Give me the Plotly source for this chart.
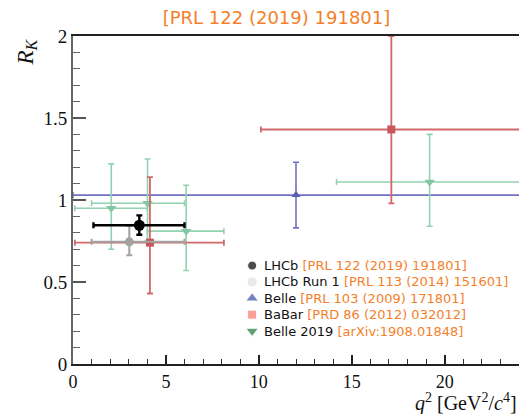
import plotly.graph_objects as go

# ---- measurements of R_K versus q^2 ----
lhcb_q2 = [3.57]
lhcb_q2_lo = [1.1]
lhcb_q2_hi = [6.0]
lhcb_rk = [0.846]
lhcb_up = [0.060]
lhcb_dn = [0.058]

run1_q2 = [3.03]
run1_q2_lo = [1.0]
run1_q2_hi = [6.0]
run1_rk = [0.745]
run1_up = [0.097]
run1_dn = [0.082]

belle_q2 = [12.0]
belle_q2_lo = [0.0]
belle_q2_hi = [24.2]
belle_rk = [1.03]
belle_up = [0.20]
belle_dn = [0.20]

babar_q2 = [4.14, 17.13]
babar_q2_lo = [0.1, 10.11]
babar_q2_hi = [8.12, 24.5]
babar_rk = [0.74, 1.43]
babar_up = [0.40, 0.57]
babar_dn = [0.31, 0.45]

belle19_q2 = [2.06, 4.01, 6.09, 19.19]
belle19_q2_lo = [0.1, 1.0, 4.0, 14.18]
belle19_q2_hi = [4.0, 6.0, 8.12, 24.5]
belle19_rk = [0.95, 0.98, 0.81, 1.11]
belle19_up = [0.27, 0.27, 0.28, 0.29]
belle19_dn = [0.25, 0.23, 0.24, 0.27]

# legend entries
leg_names = ["LHCb", "LHCb Run 1", "Belle", "BaBar", "Belle 2019"]
leg_refs = ["[PRL 122 (2019) 191801]", "[PRL 113 (2014) 151601]",
            "[PRL 103 (2009) 171801]", "[PRD 86 (2012) 032012]",
            "[arXiv:1908.01848]"]
title_text = "[PRL 122 (2019) 191801]"

ORANGE = "#f47f2b"
SERIF = "Liberation Serif"
SANS = "DejaVu Sans"

fig = go.Figure()


def add_meas(q2, lo, hi, rk, up, dn, color, symbol, size, lw, cap, mcolor=None):
    fig.add_trace(go.Scatter(
        x=q2, y=rk, mode="markers", showlegend=False,
        marker=dict(symbol=symbol, size=size, color=mcolor or color),
        error_x=dict(type="data", symmetric=False,
                     array=[h - x for h, x in zip(hi, q2)],
                     arrayminus=[x - l for x, l in zip(q2, lo)],
                     color=color, thickness=lw, width=cap),
        error_y=dict(type="data", symmetric=False, array=up, arrayminus=dn,
                     color=color, thickness=lw, width=cap),
    ))


add_meas(belle_q2, belle_q2_lo, belle_q2_hi, belle_rk, belle_up, belle_dn,
         "#7272c2", "triangle-up", 8, 1.6, 3, "#5c5cb2")
add_meas(belle19_q2, belle19_q2_lo, belle19_q2_hi, belle19_rk, belle19_up, belle19_dn,
         "#92d2b0", "triangle-down", 9, 1.6, 3, "#82c6a2")
add_meas(babar_q2, babar_q2_lo, babar_q2_hi, babar_rk, babar_up, babar_dn,
         "#d0686a", "square", 8, 1.8, 3, "#c8565a")
add_meas(run1_q2, run1_q2_lo, run1_q2_hi, run1_rk, run1_up, run1_dn,
         "#a2a2a2", "circle", 9, 2.0, 3)
add_meas(lhcb_q2, lhcb_q2_lo, lhcb_q2_hi, lhcb_rk, lhcb_up, lhcb_dn,
         "#000000", "circle", 11, 2.4, 3)

# ---- hand-built legend inside the frame ----
LEG_X = 9.64
LEG_TX = 10.16
LEG_Y0 = 0.600
LEG_DY = 0.0997
leg_symbols = ["circle", "circle", "triangle-up", "square", "triangle-down"]
leg_colors = ["#000000", "#e2e2e2", "#3452a4", "#f5766a", "#1b7a3a"]
leg_sizes = [9, 10, 11, 9, 11]

leg_y = [LEG_Y0 - i * LEG_DY for i in range(len(leg_names))]
fig.add_trace(go.Scatter(
    x=[LEG_X] * len(leg_names), y=leg_y, mode="markers", showlegend=False,
    cliponaxis=False, hoverinfo="skip",
    marker=dict(symbol=leg_symbols, color=leg_colors, size=leg_sizes),
))
for name, ref, y in zip(leg_names, leg_refs, leg_y):
    fig.add_annotation(
        x=LEG_TX, y=y, xref="x", yref="y", xanchor="left", yanchor="middle",
        showarrow=False,
        text=f"{name} <span style='color:{ORANGE}'>{ref}</span>",
        font=dict(family=SANS, size=13, color="#111111"),
    )

# axis titles
fig.add_annotation(
    x=1.0, y=-0.117, xref="paper", yref="paper", xanchor="right", yanchor="middle",
    showarrow=False,
    text="<i>q</i><sup>2</sup> [GeV<sup>2</sup>/<i>c</i><sup>4</sup>]",
    font=dict(family=SERIF, size=20, color="#111111"),
)
fig.add_annotation(
    x=-0.103, y=0.95, xref="paper", yref="paper", xanchor="center", yanchor="middle",
    showarrow=False, textangle=-90,
    text="<i>R</i><sub><i>K</i></sub>",
    font=dict(family=SERIF, size=23, color="#111111"),
)

fig.update_layout(
    width=519, height=414,
    margin=dict(l=73, r=0, t=36, b=50),
    paper_bgcolor="white", plot_bgcolor="white",
    showlegend=False,
    title=dict(text=title_text, x=276.5 / 519, y=1 - 18 / 414,
               xref="container", yref="container",
               xanchor="center", yanchor="middle",
               font=dict(family=SANS, size=18, color=ORANGE)),
    xaxis=dict(range=[0, 24], dtick=5, tick0=0, showgrid=False, zeroline=False,
               showline=True, linecolor="#222222", linewidth=2, mirror=True,
               ticks="inside", ticklen=9, tickwidth=1.5, tickcolor="#222222",
               minor=dict(ticks="inside", ticklen=5, dtick=1, tickwidth=1.2,
                          tickcolor="#333333", showgrid=False),
               tickfont=dict(family=SERIF, size=18, color="#111111")),
    yaxis=dict(range=[0, 2], dtick=0.5, tick0=0, showgrid=False, zeroline=False,
               showline=True, linecolor="#666666", linewidth=2,
               ticks="inside", ticklen=13, tickwidth=1.5, tickcolor="#555555",
               minor=dict(ticks="inside", ticklen=7, dtick=0.1, tickwidth=1.2,
                          tickcolor="#666666", showgrid=False),
               tickfont=dict(family=SERIF, size=19, color="#111111")),
)

fig.write_html("out.html")
